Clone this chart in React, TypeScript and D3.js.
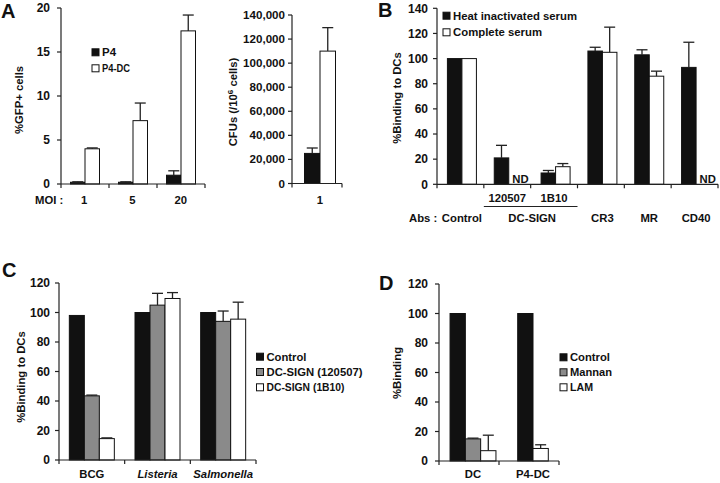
import React from "react";
import * as d3 from "d3";

// ---------- Panel A (left): %GFP+ cells ----------
const moiCategories = ["1", "5", "20"];
const gfpP4 = [0.2, 0.2, 1.0];
const gfpP4Err = [0.05, 0.05, 0.5];
const gfpP4DC = [4.0, 7.2, 17.4];
const gfpP4DCErr = [0.1, 2.0, 1.8];
const gfpTicks = [0, 5, 10, 15, 20];

// ---------- Panel A (right): CFUs ----------
const cfuCategories = ["1"];
const cfuP4 = [25000];
const cfuP4Err = [4500];
const cfuP4DC = [110000];
const cfuP4DCErr = [19500];
const cfuTicks = [0, 20000, 40000, 60000, 80000, 100000, 120000, 140000];

// ---------- Panel B ----------
const bCategories = ["Control", "120507", "1B10", "CR3", "MR", "CD40"];
const bHeat = [100, 21, 9, 106, 103, 93];
const bHeatErr = [0, 10, 2, 3, 4, 20];
const bComplete: (number | null)[] = [100, null, 14, 105, 86, null];
const bCompleteErr: (number | null)[] = [0, null, 2.5, 20, 4, null];
const bTicks = [0, 20, 40, 60, 80, 100, 120, 140];
const bSubLabels = ["120507", "1B10"];
const bGroupLabels = ["Control", "DC-SIGN", "CR3", "MR", "CD40"];

// ---------- Panel C ----------
const cCategories = ["BCG", "Listeria", "Salmonella"];
const cControl = [98, 100, 100];
const cControlErr = [0, 0, 0];
const c120507 = [43.5, 105, 94];
const c120507Err = [0.5, 8, 7];
const c1B10 = [14.5, 109.5, 95.5];
const c1B10Err = [0.5, 4, 11.5];
const cTicks = [0, 20, 40, 60, 80, 100, 120];
const cLegend = ["Control", "DC-SIGN (120507)", "DC-SIGN (1B10)"];

// ---------- Panel D ----------
const dCategories = ["DC", "P4-DC"];
const dControl = [100, 100];
const dControlErr = [0, 0];
const dMannan: (number | null)[] = [15, null];
const dMannanErr: (number | null)[] = [0.5, null];
const dLAM = [7, 8.5];
const dLAMErr = [10.5, 2.5];
const dTicks = [0, 20, 40, 60, 80, 100, 120];
const dLegend = ["Control", "Mannan", "LAM"];

// measured text widths of legend labels (style)
const legendWidths: Record<string, number> = {
  "Heat inactivated serum": 124,
  "Complete serum": 89,
  "DC-SIGN (120507)": 96,
  "DC-SIGN (1B10)": 78,
  Control: 40,
  Mannan: 42,
  LAM: 23,
  P4: 14,
  "P4-DC": 28,
};

const FONT = "'Liberation Sans', Arial, Helvetica, sans-serif";
const BLACK = "#111";
const GRAY = "#8a8a8a";
const WHITE = "#fff";

type Series = { values: (number | null)[]; errs: (number | null)[]; fill: string };

type PanelProps = {
  x0: number;
  x1: number;
  yBottom: number;
  yTop: number;
  yMax: number;
  ticks: number[];
  fmt?: (v: number) => string;
  categories: string[];
  series: Series[];
  barWidth: number;
  offset?: number;
  compact?: boolean;
  labelGap?: number;
  tickSize?: number;
};

function BarPanel(p: PanelProps) {
  const y = d3.scaleLinear().domain([0, p.yMax]).range([p.yBottom, p.yTop]);
  const x = d3.scaleBand<string>().domain(p.categories).range([p.x0, p.x1]).padding(0);
  const fmt = p.fmt || ((v: number) => String(v));
  const gap = p.labelGap ?? 9;
  const boundaries = p.categories.map((c) => x(c) as number).concat([p.x1]);
  const bars: React.ReactNode[] = [];
  p.categories.forEach((c, ci) => {
    const present = p.series.filter((s) => !p.compact || s.values[ci] != null);
    const n = present.length;
    const center = (x(c) as number) + x.bandwidth() / 2 + (p.offset || 0);
    const start = center - (n * p.barWidth) / 2;
    present.forEach((s, si) => {
      const v = s.values[ci];
      if (v == null) return;
      const bx = start + si * p.barWidth;
      const top = y(v);
      bars.push(
        <rect key={`b${ci}-${si}`} x={bx} y={top} width={p.barWidth} height={p.yBottom - top}
          fill={s.fill} stroke="#111" strokeWidth={1} />
      );
      const e = s.errs[ci];
      if (e != null && e > 0) {
        const cx = bx + p.barWidth / 2;
        const et = y(v + e);
        bars.push(
          <g key={`e${ci}-${si}`} stroke="#222" strokeWidth={1.3}>
            <line x1={cx} x2={cx} y1={top} y2={et} />
            <line x1={cx - 5.5} x2={cx + 5.5} y1={et} y2={et} />
          </g>
        );
      }
    });
  });
  return (
    <g>
      {bars}
      <line x1={p.x0} x2={p.x0} y1={p.yBottom} y2={y(p.yMax)} stroke="#222" strokeWidth={1.2} />
      {p.ticks.map((t) => (
        <g key={`t${t}`}>
          <line x1={p.x0 - 4} x2={p.x0} y1={y(t)} y2={y(t)} stroke="#222" strokeWidth={1.2} />
          <text x={p.x0 - gap} y={y(t)} dy="0.35em" textAnchor="end" fontSize={p.tickSize ?? 12}
            fontWeight="bold" fontFamily={FONT} fill="#111">{fmt(t)}</text>
        </g>
      ))}
      <line x1={p.x0} x2={p.x1} y1={p.yBottom} y2={p.yBottom} stroke="#222" strokeWidth={1.2} />
      {boundaries.map((b, i) => (
        <line key={`xb${i}`} x1={b} x2={b} y1={p.yBottom} y2={p.yBottom + 4} stroke="#222" strokeWidth={1.2} />
      ))}
    </g>
  );
}

function T(props: { x: number; y: number; children: React.ReactNode; anchor?: string; size?: number; italic?: boolean; rotate?: boolean; width?: number }) {
  const { x, y, anchor = "start", size = 11.3, italic, rotate, width } = props;
  return (
    <text
      x={rotate ? 0 : x}
      y={rotate ? 0 : y}
      transform={rotate ? `translate(${x},${y}) rotate(-90)` : undefined}
      dy={rotate ? "0.35em" : undefined}
      textAnchor={anchor}
      fontSize={size}
      fontWeight="bold"
      fontStyle={italic ? "italic" : "normal"}
      fontFamily={FONT}
      fill="#111"
      textLength={width}
      lengthAdjust={width ? "spacingAndGlyphs" : undefined}
    >
      {props.children}
    </text>
  );
}

function LegendItem({ x, y, fill, label, size = 11.3 }: { x: number; y: number; fill: string; label: string; size?: number }) {
  return (
    <g>
      <rect x={x} y={y - 3.5} width={7} height={7} fill={fill} stroke="#111" strokeWidth={1} />
      <T x={x + 10} y={y + size * 0.36} size={size} width={legendWidths[label]}>{label}</T>
    </g>
  );
}

export default function App() {
  const commaFmt = d3.format(",");
  const bX = d3.scaleBand<string>().domain(bCategories).range([437, 718]);
  const bCenter = (c: string) => (bX(c) as number) + bX.bandwidth() / 2;
  const bGroupCenters = [
    bCenter("Control"),
    ((bX("120507") as number) + (bX("1B10") as number) + bX.bandwidth()) / 2,
    bCenter("CR3"),
    bCenter("MR"),
    bCenter("CD40"),
  ];
  const bY = d3.scaleLinear().domain([0, 140]).range([184.3, 8.3]);
  const aX = d3.scaleBand<string>().domain(moiCategories).range([60, 205]);
  const a2X = d3.scaleBand<string>().domain(cfuCategories).range([292, 342]);
  const cX = d3.scaleBand<string>().domain(cCategories).range([59, 256]);
  const dX = d3.scaleBand<string>().domain(dCategories).range([439, 559]);

  return (
    <svg width={720} height={483} style={{ position: "absolute", left: 0, top: 0, background: "#fff" }}>
      <rect x={0} y={0} width={720} height={483} fill="#fff" />

      {/* Panel A left */}
      <T x={1} y={18} size={20}>A</T>
      <BarPanel x0={61} x1={205} yBottom={184} yTop={8} yMax={20} ticks={gfpTicks}
        categories={moiCategories} barWidth={14.5} labelGap={11}
        series={[
          { values: gfpP4, errs: gfpP4Err, fill: BLACK },
          { values: gfpP4DC, errs: gfpP4DCErr, fill: WHITE },
        ]} />
      <T x={19} y={100} anchor="middle" rotate>%GFP+ cells</T>
      <LegendItem x={92} y={52.3} fill={BLACK} label="P4" size={10} />
      <LegendItem x={92} y={68.3} fill={WHITE} label="P4-DC" size={10} />
      <T x={35} y={203.5}>MOI :</T>
      {moiCategories.map((c) => (
        <T key={c} x={(aX(c) as number) + aX.bandwidth() / 2} y={203.5} anchor="middle">{c}</T>
      ))}

      {/* Panel A right */}
      <BarPanel x0={292} x1={342} yBottom={183.5} yTop={15} yMax={140000} ticks={cfuTicks}
        fmt={(v) => commaFmt(v)} categories={cfuCategories} barWidth={15.5} offset={3} labelGap={7}
        tickSize={11.6}
        series={[
          { values: cfuP4, errs: cfuP4Err, fill: BLACK },
          { values: cfuP4DC, errs: cfuP4DCErr, fill: WHITE },
        ]} />
      <text transform="translate(233,102) rotate(-90)" dy="0.35em" textAnchor="middle" fontSize={11.3}
        fontWeight="bold" fontFamily={FONT} fill="#111">
        CFUs (/10<tspan fontSize={8} dy={-4}>6</tspan><tspan dy={4}> cells)</tspan>
      </text>
      {cfuCategories.map((c) => (
        <T key={c} x={(a2X(c) as number) + a2X.bandwidth() / 2 + 3} y={204} anchor="middle">{c}</T>
      ))}

      {/* Panel B */}
      <T x={378} y={17} size={20}>B</T>
      <BarPanel x0={437} x1={718} yBottom={184.3} yTop={8.3} yMax={140} ticks={bTicks}
        categories={bCategories} barWidth={14.5} offset={1.5}
        series={[
          { values: bHeat, errs: bHeatErr, fill: BLACK },
          { values: bComplete, errs: bCompleteErr, fill: WHITE },
        ]} />
      <T x={397} y={98} anchor="middle" rotate>%Binding to DCs</T>
      <LegendItem x={443} y={15.7} fill={BLACK} label="Heat inactivated serum" />
      <LegendItem x={443} y={32.3} fill={WHITE} label="Complete serum" />
      {bCategories.map((c, i) =>
        bComplete[i] == null ? (
          <T key={`nd${c}`} x={bCenter(c) + 5} y={bY(0) - 1.8}>ND</T>
        ) : null
      )}
      {bSubLabels.map((c) => (
        <T key={c} x={bCenter(c)} y={201.5} anchor="middle">{c}</T>
      ))}
      <line x1={bX("120507") as number} x2={(bX("1B10") as number) + bX.bandwidth()} y1={206.5} y2={206.5}
        stroke="#222" strokeWidth={1} />
      <T x={409} y={221.5}>Abs :</T>
      {bGroupLabels.map((c, i) => (
        <T key={c} x={bGroupCenters[i] + 1.5} y={221.5} anchor="middle">{c}</T>
      ))}

      {/* Panel C */}
      <T x={2} y={277} size={20}>C</T>
      <BarPanel x0={59} x1={256} yBottom={460} yTop={283} yMax={120} ticks={cTicks}
        categories={cCategories} barWidth={15}
        series={[
          { values: cControl, errs: cControlErr, fill: BLACK },
          { values: c120507, errs: c120507Err, fill: GRAY },
          { values: c1B10, errs: c1B10Err, fill: WHITE },
        ]} />
      <T x={21} y={377} anchor="middle" rotate>%Binding to DCs</T>
      {cCategories.map((c, i) => (
        <T key={c} x={(cX(c) as number) + cX.bandwidth() / 2} y={478} anchor="middle" italic={i > 0}>{c}</T>
      ))}
      {cLegend.map((l, i) => (
        <LegendItem key={l} x={256.5} y={356.7 + i * 15.3} fill={[BLACK, GRAY, WHITE][i]} label={l} />
      ))}

      {/* Panel D */}
      <T x={379} y={290} size={20}>D</T>
      <BarPanel x0={439} x1={559} yBottom={461} yTop={284} yMax={120} ticks={dTicks}
        categories={dCategories} barWidth={15.3} offset={4} compact labelGap={11}
        series={[
          { values: dControl, errs: dControlErr, fill: BLACK },
          { values: dMannan, errs: dMannanErr, fill: GRAY },
          { values: dLAM, errs: dLAMErr, fill: WHITE },
        ]} />
      <T x={397} y={373} anchor="middle" rotate>%Binding</T>
      {dCategories.map((c) => (
        <T key={c} x={(dX(c) as number) + dX.bandwidth() / 2 + 4} y={478} anchor="middle">{c}</T>
      ))}
      {dLegend.map((l, i) => (
        <LegendItem key={l} x={560} y={357.3 + i * 15} fill={[BLACK, GRAY, WHITE][i]} label={l} />
      ))}
    </svg>
  );
}
